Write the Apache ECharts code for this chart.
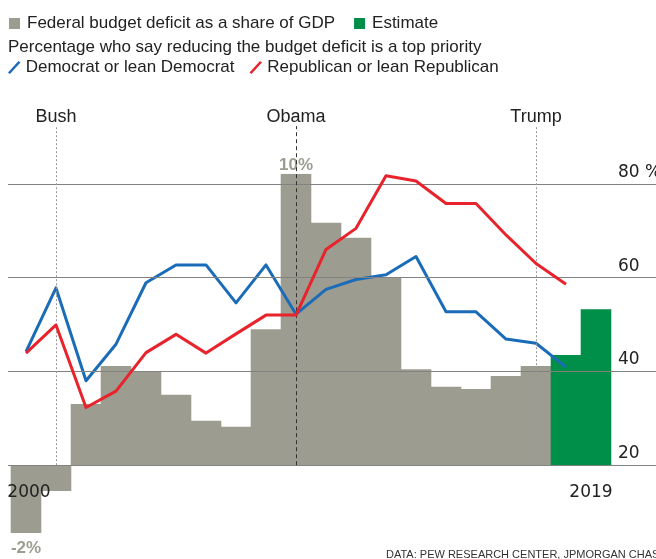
<!DOCTYPE html>
<html>
<head>
<meta charset="utf-8">
<script src="https://cdn.jsdelivr.net/npm/echarts/dist/echarts.min.js"></script>
<style>
  html, body { margin: 0; padding: 0; background: #fff; }
  #chart { width: 656px; height: 559px; }
</style>
</head>
<body>
<div id="chart"></div>
<script>
// ---- data ----
const deficitName = 'Federal budget deficit as a share of GDP';
const estimateName = 'Estimate';
const demName = 'Democrat or lean Democrat';
const repName = 'Republican or lean Republican';
const subtitle = 'Percentage who say reducing the budget deficit is a top priority';
const sourceText = 'DATA: PEW RESEARCH CENTER, JPMORGAN CHASE';

const deficitYears = [2000, 2001, 2002, 2003, 2004, 2005, 2006, 2007, 2008, 2009, 2010, 2011, 2012, 2013, 2014, 2015, 2016, 2017];
const deficit = [-2.31, -0.88, 2.09, 3.38, 3.21, 2.40, 1.52, 1.31, 4.64, 9.94, 8.27, 7.76, 6.41, 3.27, 2.68, 2.60, 3.04, 3.38];
const estimateYears = [2018, 2019];
const estimate = [3.76, 5.32];

const barLabelYears = [2000, 2009];
const barLabelTexts = ['-2%', '10%'];

const surveyYears = [2000, 2001, 2002, 2003, 2004, 2005, 2006, 2007, 2008, 2009, 2010, 2011, 2012, 2013, 2014, 2015, 2016, 2017, 2018];
const democrat = [44.2, 57.8, 38.0, 45.8, 58.9, 62.7, 62.7, 54.6, 62.7, 52.2, 57.5, 59.6, 60.6, 64.5, 52.7, 52.7, 46.9, 46.0, 40.9];
const republican = [43.9, 49.9, 32.3, 35.8, 44.0, 47.9, 43.9, 48.0, 52.0, 52.0, 66.0, 70.5, 81.7, 80.6, 75.8, 75.8, 69.1, 63.0, 58.6];

const rightTicks = [20, 40, 60, 80];
const rightTickLabels = ['20', '40', '60', '80 %'];
const xLabelYears = [2000, 2019];
const xLabelTexts = ['2000', '2019'];

const eventNames = ['Bush', 'Obama', 'Trump'];
const eventYears = [2001, 2009, 2017];

// ---- styles ----
const GRAY = '#9c9c90';
const GREEN = '#008f48';
const BLUE = '#1b6cb8';
const RED = '#e8232b';
const TXT = '#222';
const FONT = '"Liberation Sans", Arial, sans-serif';
const NUMFONT = '"DejaVu Sans", sans-serif';
const EVENT_TOP = 92.3;   // top end of the president guide lines (right-axis units)
const BASE = 20;          // right-axis value where the deficit baseline sits

const slash = 'path://M0,12 L11,0 L13,1.6 L2,13.6 Z';

function makeBar(y, v) {
  const item = { value: [y, v] };
  const k = barLabelYears.indexOf(y);
  if (k >= 0) {
    item.label = {
      show: true,
      formatter: barLabelTexts[k],
      position: v < 0 ? 'bottom' : 'top',
      distance: v < 0 ? 7 : 0,
      color: GRAY,
      fontWeight: 'bold',
      fontSize: 17,
      fontFamily: FONT,
      backgroundColor: v < 0 ? 'transparent' : '#fff',
      padding: v < 0 ? 0 : [0, 2, 0, 2]
    };
  }
  return item;
}

const markData = [];
rightTicks.forEach(v => markData.push({
  yAxis: v,
  lineStyle: { color: '#828282', width: 1.1, type: 'solid' },
  label: { show: false }
}));
eventNames.forEach((n, i) => {
  const dark = n === 'Obama';
  markData.push([
    {
      coord: [eventYears[i], BASE],
      lineStyle: { color: dark ? '#333' : '#999', width: 1, type: dark ? [4, 3] : [2, 2] },
      label: { show: true, position: 'end', formatter: n, distance: 0, color: TXT, fontSize: 18, fontFamily: FONT }
    },
    { coord: [eventYears[i], EVENT_TOP] }
  ]);
});

const chart = echarts.init(document.getElementById('chart'), null, { renderer: 'canvas' });
chart.setOption({
  animation: false,
  backgroundColor: '#fff',
  grid: { left: 8, right: 0, top: 90, bottom: 0, containLabel: false, outerBoundsMode: 'none' },
  legend: [
    {
      data: [{ name: deficitName, icon: 'rect' }, { name: estimateName, icon: 'rect' }],
      left: 9, top: 15, padding: 0, itemWidth: 11, itemHeight: 11, itemGap: 19,
      selectedMode: false,
      textStyle: { fontFamily: FONT, fontSize: 17, color: TXT, padding: [0, 0, 0, 2] }
    },
    {
      data: [{ name: demName, icon: slash }, { name: repName, icon: slash }],
      left: 8, top: 59, padding: 0, itemWidth: 13, itemHeight: 13, itemGap: 15,
      selectedMode: false,
      textStyle: { fontFamily: FONT, fontSize: 17, color: TXT, padding: [0, 0, 0, 0] }
    }
  ],
  graphic: [
    { type: 'text', left: 8, top: 39, style: { text: subtitle, font: '17px ' + FONT, fill: TXT } },
    { type: 'text', left: 386, top: 549, style: { text: sourceText, font: '11px ' + FONT, fill: '#333' } }
  ],
  xAxis: {
    type: 'value', min: 1999.4, max: 2021.0,
    position: 'bottom', offset: -75, z: 10,
    axisLine: { show: false }, axisTick: { show: false }, splitLine: { show: false },
    axisLabel: {
      customValues: xLabelYears,
      formatter: v => {
        const k = xLabelYears.indexOf(v);
        return k === 0 ? '{a|' + xLabelTexts[k] + '}' : '{b|' + xLabelTexts[k] + '}';
      },
      margin: 0, color: TXT, fontSize: 17, fontFamily: NUMFONT,
      rich: {
        a: { padding: [0, 0, 0, 6], fontSize: 17, fontFamily: NUMFONT, color: TXT },
        b: { padding: [0, 10, 0, 0], fontSize: 17, fontFamily: NUMFONT, color: TXT }
      }
    }
  },
  yAxis: [
    { type: 'value', min: -3.2, max: 12.8, show: false },
    {
      type: 'value', position: 'right', min: 0, max: 100, offset: -38,
      axisLine: { show: false }, axisTick: { show: false }, splitLine: { show: false },
      axisLabel: {
        customValues: rightTicks,
        formatter: v => rightTickLabels[rightTicks.indexOf(v)],
        margin: 0, align: 'left', verticalAlign: 'bottom', padding: [0, 0, 3, 0],
        color: TXT, fontSize: 17, fontFamily: NUMFONT
      }
    }
  ],
  series: [
    {
      name: deficitName, type: 'bar', xAxisIndex: 0, yAxisIndex: 0,
      barWidth: 30.6, barGap: '-100%',
      itemStyle: { color: GRAY },
      data: deficitYears.map((y, i) => makeBar(y, deficit[i]))
    },
    {
      name: estimateName, type: 'bar', xAxisIndex: 0, yAxisIndex: 0,
      barWidth: 30.6, barGap: '-100%',
      itemStyle: { color: GREEN },
      data: estimateYears.map((y, i) => makeBar(y, estimate[i]))
    },
    {
      name: demName, type: 'line', xAxisIndex: 0, yAxisIndex: 1,
      symbol: 'none', z: 4,
      lineStyle: { color: BLUE, width: 3, join: 'round' },
      itemStyle: { color: BLUE },
      data: surveyYears.map((y, i) => [y, democrat[i]]),
      markLine: { silent: true, symbol: 'none', animation: false, data: markData }
    },
    {
      name: repName, type: 'line', xAxisIndex: 0, yAxisIndex: 1,
      symbol: 'none', z: 5,
      lineStyle: { color: RED, width: 3, join: 'round' },
      itemStyle: { color: RED },
      data: surveyYears.map((y, i) => [y, republican[i]])
    }
  ]
});
</script>
</body>
</html>
